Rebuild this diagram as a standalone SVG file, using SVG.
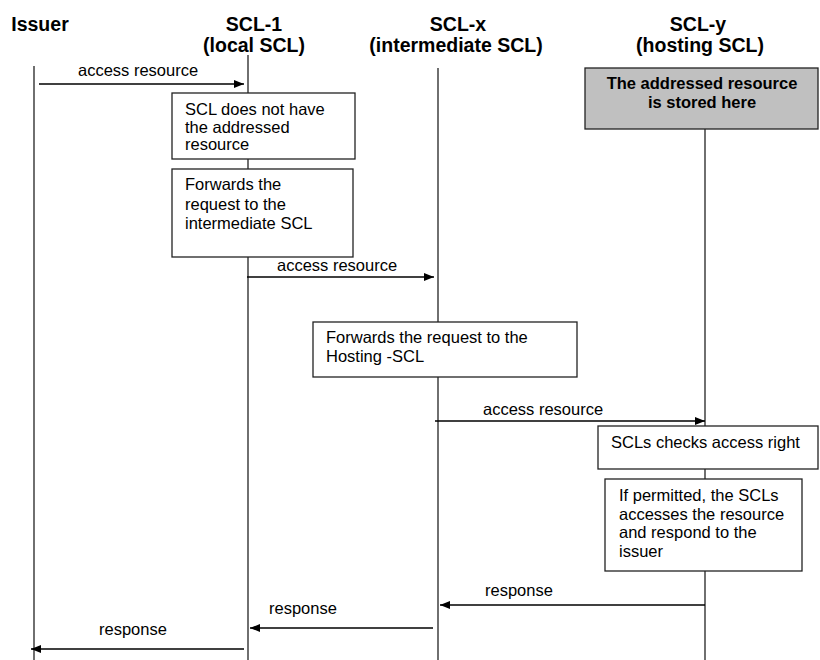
<svg xmlns="http://www.w3.org/2000/svg" width="820" height="660" viewBox="0 0 820 660">
  <style>
    .hdr { font-family: "Liberation Sans", Arial, sans-serif; font-size: 19.5px; font-weight: bold; fill: #000; text-anchor: middle; }
    .txt { font-family: "Liberation Sans", Arial, sans-serif; font-size: 16.5px; fill: #000; }
    .bold { font-weight: bold; text-anchor: middle; }
    .life { stroke: #222; stroke-width: 1.3; fill: none; }
    .box { fill: #fff; stroke: #222; stroke-width: 1.3; }
    .gray { fill: #c0c0c0; stroke: #222; stroke-width: 1.3; }
    .msg { stroke: #000; stroke-width: 1.5; fill: none; marker-end: url(#arrow); }
  </style>
  <defs>
    <marker id="arrow" viewBox="0 0 10 8" refX="10" refY="4" markerWidth="10" markerHeight="8" markerUnits="userSpaceOnUse" orient="auto">
      <path d="M0,0 L10,4 L0,8 Z" fill="#000"/>
    </marker>
  </defs>
  <rect width="820" height="660" fill="#fff"/>

  <!-- lifelines -->
  <g id="lifelines">
    <line class="life" x1="34" y1="66" x2="34" y2="660"/>
    <line class="life" x1="248" y1="55" x2="248" y2="660"/>
    <line class="life" x1="438" y1="68" x2="438" y2="660"/>
    <line class="life" x1="705" y1="68" x2="705" y2="660"/>
  </g>

  <!-- participant headers -->
  <g id="issuer">
    <text class="hdr" x="40" y="31">Issuer</text>
  </g>
  <g id="scl-1">
    <text class="hdr" x="254" y="31">SCL-1</text>
    <text class="hdr" x="254" y="52">(local SCL)</text>
  </g>
  <g id="scl-x">
    <text class="hdr" x="458" y="31">SCL-x</text>
    <text class="hdr" x="456" y="52">(intermediate SCL)</text>
  </g>
  <g id="scl-y">
    <text class="hdr" x="698" y="31">SCL-y</text>
    <text class="hdr" x="700" y="52">(hosting SCL)</text>
  </g>

  <!-- activity boxes -->
  <g id="stored-here">
    <rect class="gray" x="585" y="68" width="233" height="61"/>
    <text class="txt bold" x="702" y="89">The addressed resource</text>
    <text class="txt bold" x="702" y="108">is stored here</text>
  </g>
  <g id="no-resource">
    <rect class="box" x="172" y="93" width="183" height="66"/>
    <text class="txt" x="185" y="115">SCL does not have</text>
    <text class="txt" x="185" y="132.5">the addressed</text>
    <text class="txt" x="185" y="150">resource</text>
  </g>
  <g id="forward-intermediate">
    <rect class="box" x="172" y="169" width="181" height="88"/>
    <text class="txt" x="185" y="190">Forwards the</text>
    <text class="txt" x="185" y="209.5">request to the</text>
    <text class="txt" x="185" y="229">intermediate SCL</text>
  </g>
  <g id="forward-hosting">
    <rect class="box" x="313" y="322" width="264" height="55"/>
    <text class="txt" x="326" y="343">Forwards the request to the</text>
    <text class="txt" x="326" y="362">Hosting -SCL</text>
  </g>
  <g id="check-access">
    <rect class="box" x="598" y="426" width="220" height="43"/>
    <text class="txt" x="611" y="448">SCLs checks access right</text>
  </g>
  <g id="respond">
    <rect class="box" x="605" y="479" width="197" height="92"/>
    <text class="txt" x="619" y="501">If permitted, the SCLs</text>
    <text class="txt" x="619" y="519.5">accesses the resource</text>
    <text class="txt" x="619" y="538">and respond to the</text>
    <text class="txt" x="619" y="556.5">issuer</text>
  </g>

  <!-- messages -->
  <g id="connectors">
    <line class="msg" x1="39" y1="84" x2="244" y2="84"/>
    <text class="txt" x="78" y="76">access resource</text>

    <line class="msg" x1="247" y1="277" x2="434" y2="277"/>
    <text class="txt" x="277" y="271">access resource</text>

    <line class="msg" x1="435" y1="421" x2="705" y2="421"/>
    <text class="txt" x="483" y="415">access resource</text>

    <line class="msg" x1="705" y1="605" x2="440" y2="605"/>
    <text class="txt" x="485" y="596">response</text>

    <line class="msg" x1="433" y1="628" x2="250" y2="628"/>
    <text class="txt" x="269" y="614">response</text>

    <line class="msg" x1="244" y1="649" x2="31" y2="649"/>
    <text class="txt" x="99" y="635">response</text>
  </g>
</svg>
